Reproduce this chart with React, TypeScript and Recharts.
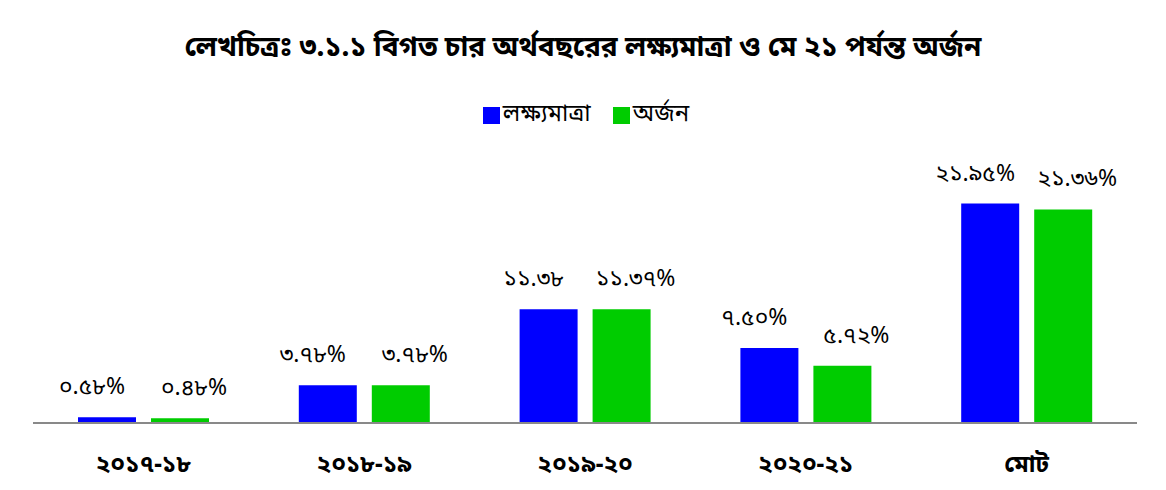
import React from 'react';
import { BarChart, Bar, XAxis, YAxis, LabelList } from 'recharts';

const categories = ['২০১৭-১৮', '২০১৮-১৯', '২০১৯-২০', '২০২০-২১', 'মোট'];
const targetValues = [0.58, 3.78, 11.38, 7.5, 21.95];
const achievedValues = [0.48, 3.78, 11.37, 5.72, 21.36];
const targetLabels = ['০.৫৮%', '৩.৭৮%', '১১.৩৮', '৭.৫০%', '২১.৯৫%'];
const achievedLabels = ['০.৪৮%', '৩.৭৮%', '১১.৩৭%', '৫.৭২%', '২১.৩৬%'];

const data = categories.map((name, i) => ({
  name,
  target: targetValues[i],
  achieved: achievedValues[i],
}));

const FONT = '"Noto Sans Bengali", "Noto Sans", "Lohit Bengali", sans-serif';

const makeLabel = (labels: string[], dx: number) => (props: any) => {
  const { x, y, width, index } = props;
  return (
    <text
      x={Number(x) + Number(width) / 2 + dx}
      y={Number(y) - 29}
      textAnchor="middle"
      dominantBaseline="central"
      fontSize={23}
      fontFamily={FONT}
      fill="#000"
    >
      {labels[index]}
    </text>
  );
};

const CategoryTick = (props: any) => {
  const { x, y, payload } = props;
  return (
    <text
      x={x}
      y={y + 35}
      textAnchor="middle"
      dominantBaseline="central"
      fontSize={24}
      fontWeight="bold"
      fontFamily={FONT}
      fill="#000"
    >
      {payload.value}
    </text>
  );
};

export default function App() {
  return (
    <div style={{ margin: -8, position: 'relative', width: 1166, height: 490, background: '#fff', overflow: 'hidden' }}>
      <div
        style={{
          position: 'absolute',
          left: 3,
          top: 4,
          width: 1160,
          height: 500,
          borderTop: '2px solid #999',
          borderLeft: '2px solid #999',
          borderRight: '2px solid #999',
        }}
      />
      <div
        style={{
          position: 'absolute',
          left: 0,
          top: 29,
          width: 1166,
          textAlign: 'center',
          fontFamily: FONT,
          fontWeight: 'bold',
          fontSize: 28,
          lineHeight: '40px',
        }}
      >
        লেখচিত্রঃ ৩.১.১ বিগত চার অর্থবছরের লক্ষ্যমাত্রা ও মে ২১ পর্যন্ত অর্জন
      </div>
      <div
        style={{
          position: 'absolute',
          left: 3,
          top: 97,
          width: 1166,
          height: 36,
          display: 'flex',
          justifyContent: 'center',
          alignItems: 'center',
          fontFamily: FONT,
          fontSize: 24,
        }}
      >
        <span style={{ display: 'inline-block', width: 17, height: 17, background: '#0000ff', marginRight: 3 }} />
        <span style={{ marginRight: 22 }}>লক্ষ্যমাত্রা</span>
        <span style={{ display: 'inline-block', width: 17, height: 17, background: '#00cc00', marginRight: 3 }} />
        <span>অর্জন</span>
      </div>
      <div style={{ position: 'absolute', left: 0, top: 0 }}>
        <BarChart
          width={1166}
          height={490}
          data={data}
          margin={{ top: 173, right: 29, bottom: 7, left: 33 }}
          barSize={58}
          barGap={15}
        >
          <XAxis
            dataKey="name"
            tickLine={false}
            axisLine={{ stroke: '#898989', strokeWidth: 2 }}
            tick={<CategoryTick />}
            height={60}
            interval={0}
          />
          <YAxis hide domain={[0, 25]} />
          <Bar dataKey="target" fill="#0000ff" isAnimationActive={false}>
            <LabelList dataKey="target" content={makeLabel(targetLabels, -15)} />
          </Bar>
          <Bar dataKey="achieved" fill="#00cc00" isAnimationActive={false}>
            <LabelList dataKey="achieved" content={makeLabel(achievedLabels, 14)} />
          </Bar>
        </BarChart>
      </div>
    </div>
  );
}
